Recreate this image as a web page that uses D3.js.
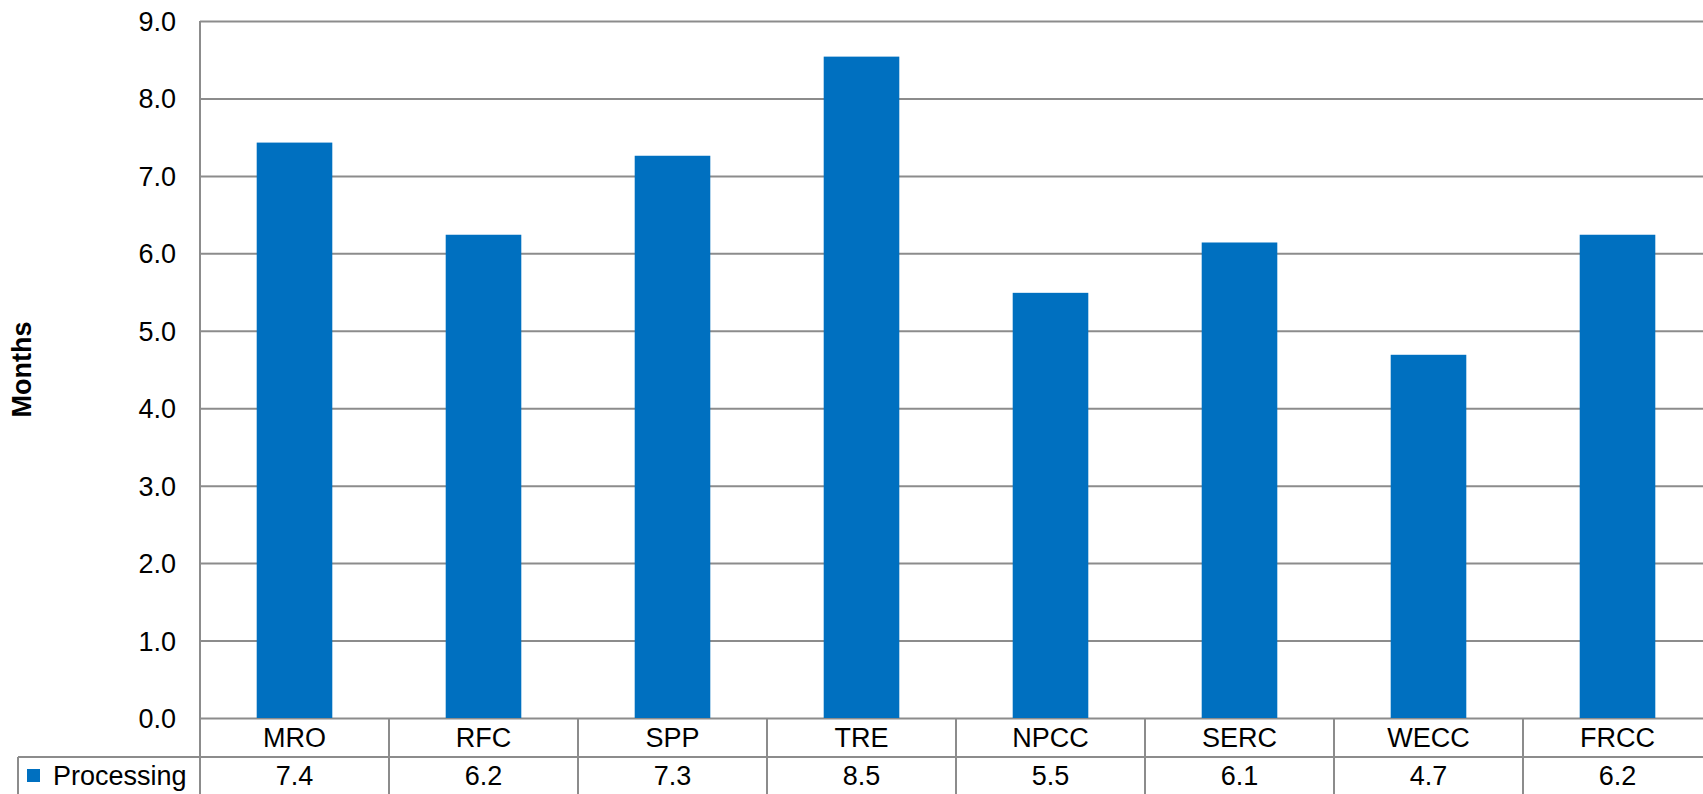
<!DOCTYPE html>
<html>
<head>
<meta charset="utf-8">
<script src="https://cdn.jsdelivr.net/npm/d3@7"></script>
<style>
  html, body { margin: 0; padding: 0; background: #fff; overflow: hidden; }
  svg { display: block; font-family: "Liberation Sans", Arial, sans-serif; }
</style>
</head>
<body>
<svg id="chart" width="1703" height="794"></svg>
<script>
// ---- data ----
const categories = ["MRO", "RFC", "SPP", "TRE", "NPCC", "SERC", "WECC", "FRCC"];
const seriesName = "Processing";
const processingValues = [7.43, 6.24, 7.26, 8.54, 5.49, 6.14, 4.69, 6.24];
const yTicks = [0, 1, 2, 3, 4, 5, 6, 7, 8, 9];
const yTitle = "Months";

// ---- layout ----
const W = 1703, H = 794;
const plot = { left: 200, right: 1712, top: 21, bottom: 718 };
const tableRow1 = 757;   // bottom of category row
const tableBottom = 800;  // beyond viewport
const legendLeft = 18;
const barColor = "#0070C0";
const lineColor = "#8c8c8c";
const fontSize = 27;

const svg = d3.select("#chart");

const x = d3.scaleBand().domain(categories).range([plot.left, plot.right]).padding(0);
const xb = d3.scaleBand().domain(categories).range([plot.left, plot.right])
  .paddingInner(0.6).paddingOuter(0.3);
const y = d3.scaleLinear().domain([0, 9]).range([plot.bottom, plot.top]);

// gridlines + tick labels
const yAxis = d3.axisLeft(y).tickValues(yTicks).tickFormat(d3.format(".1f"))
  .tickSize(-(plot.right - plot.left)).tickPadding(24);
const gy = svg.append("g").attr("transform", `translate(${plot.left},0)`).call(yAxis);
gy.select(".domain").remove();
gy.selectAll(".tick line").attr("stroke", lineColor).attr("stroke-width", 2);
gy.selectAll(".tick text")
  .attr("font-size", fontSize).attr("fill", "#000")
  .attr("font-family", "Liberation Sans, Arial, sans-serif")
  .attr("dy", "0.35em");

// bars
svg.append("g").selectAll("rect").data(processingValues).join("rect")
  .attr("x", (d, i) => xb(categories[i]))
  .attr("width", xb.bandwidth())
  .attr("y", d => y(d))
  .attr("height", d => y(0) - y(d))
  .attr("fill", barColor);

// axis line (left)
svg.append("line")
  .attr("x1", plot.left).attr("x2", plot.left)
  .attr("y1", plot.top).attr("y2", tableBottom)
  .attr("stroke", lineColor).attr("stroke-width", 2);

// data table
const tbl = svg.append("g");
tbl.append("line")
  .attr("x1", legendLeft).attr("x2", plot.right)
  .attr("y1", tableRow1).attr("y2", tableRow1)
  .attr("stroke", lineColor).attr("stroke-width", 2);
tbl.append("line")
  .attr("x1", legendLeft).attr("x2", legendLeft)
  .attr("y1", tableRow1).attr("y2", tableBottom)
  .attr("stroke", lineColor).attr("stroke-width", 2);
tbl.selectAll("line.col").data(categories).join("line")
  .attr("class", "col")
  .attr("x1", d => x(d) + x.bandwidth()).attr("x2", d => x(d) + x.bandwidth())
  .attr("y1", plot.bottom).attr("y2", tableBottom)
  .attr("stroke", lineColor).attr("stroke-width", 2);
tbl.selectAll("text.cat").data(categories).join("text")
  .attr("class", "cat")
  .attr("x", d => x(d) + x.bandwidth() / 2)
  .attr("y", (plot.bottom + tableRow1) / 2)
  .attr("dy", "0.35em")
  .attr("text-anchor", "middle")
  .attr("font-size", fontSize)
  .text(d => d);
tbl.selectAll("text.val").data(processingValues).join("text")
  .attr("class", "val")
  .attr("x", (d, i) => x(categories[i]) + x.bandwidth() / 2)
  .attr("y", 776)
  .attr("dy", "0.35em")
  .attr("text-anchor", "middle")
  .attr("font-size", fontSize)
  .text(d => d3.format(".1f")(d));
tbl.append("rect")
  .attr("x", 27).attr("y", 769).attr("width", 13).attr("height", 13)
  .attr("fill", barColor);
tbl.append("text")
  .attr("x", 53).attr("y", 776).attr("dy", "0.35em")
  .attr("font-size", fontSize)
  .text(seriesName);

// y title
svg.append("text")
  .attr("transform", `translate(22,${(plot.top + plot.bottom) / 2}) rotate(-90)`)
  .attr("dy", "0.35em")
  .attr("text-anchor", "middle")
  .attr("font-size", fontSize)
  .attr("font-weight", "bold")
  .text(yTitle);
</script>
</body>
</html>
